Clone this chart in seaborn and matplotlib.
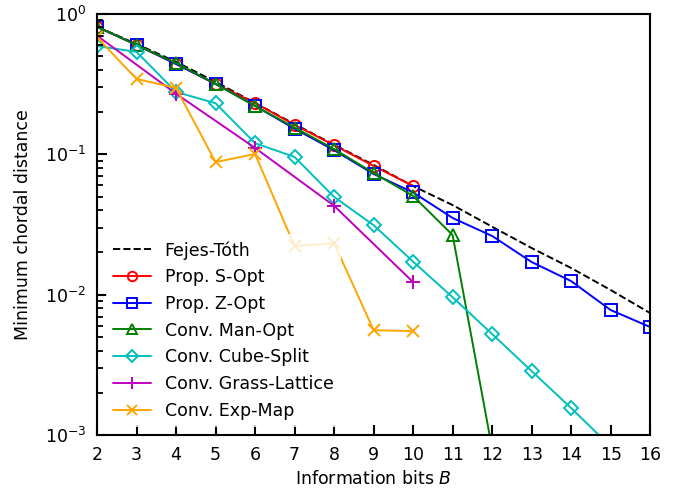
import numpy as np
import pandas as pd
import matplotlib
matplotlib.use("Agg")
import matplotlib.pyplot as plt
import seaborn as sns

sns.set_style("ticks")
plt.rcParams['font.family'] = ['DejaVu Sans']
plt.rcParams.update({
    'axes.edgecolor': 'black',
    'text.color': 'black',
    'axes.labelcolor': 'black',
    'xtick.color': 'black',
    'ytick.color': 'black',
    'xtick.direction': 'in',
    'ytick.direction': 'in',
    'xtick.major.size': 7,
    'ytick.major.size': 7,
    'xtick.major.width': 1.5,
    'ytick.major.width': 1.5,
    'ytick.minor.size': 4.5,
    'ytick.minor.width': 1.3,
    'xtick.top': False,
    'ytick.right': False,
    'axes.axisbelow': False,
})

# values
bits_ft = list(range(2, 17))
fejes_toth = [0.81, 0.61, 0.455, 0.328, 0.232, 0.164, 0.117, 0.084, 0.0594,
              0.0435, 0.0305, 0.0215, 0.0155, 0.0108, 0.0074]

bits_s = list(range(2, 11))
s_opt = [0.81, 0.60, 0.44, 0.317, 0.232, 0.162, 0.116, 0.0826, 0.0594]

bits_z = list(range(2, 17))
z_opt = [0.808, 0.601, 0.44, 0.317, 0.221, 0.152, 0.107, 0.0724, 0.0535,
         0.0352, 0.0262, 0.0171, 0.0125, 0.00778, 0.00589]

bits_man = list(range(2, 13))
man_opt = [0.81, 0.60, 0.447, 0.317, 0.221, 0.155, 0.109, 0.0736, 0.0505,
           0.0266, 0.0008]

bits_cube = list(range(2, 16))
cube_split = [0.59, 0.536, 0.278, 0.231, 0.120, 0.0957, 0.0497, 0.0313,
              0.0172, 0.0096, 0.00525, 0.00286, 0.00156, 0.00083]

bits_grass = [2, 4, 6, 8, 10]
grass_lattice = [0.70, 0.27, 0.111, 0.043, 0.0123]

bits_exp = list(range(2, 11))
exp_map = [0.68, 0.344, 0.297, 0.088, 0.1005, 0.0222, 0.0233, 0.0056, 0.0055]

FS = 12.5

fig, ax = plt.subplots(figsize=(6.83, 4.94), dpi=100)
fig.subplots_adjust(left=0.142, right=0.952, top=0.972, bottom=0.119)

mk = dict(markerfacecolor='none', markeredgewidth=1.4, markersize=8,
          linewidth=1.4)

sns.lineplot(x=bits_ft, y=fejes_toth, ax=ax, color='k', linestyle='--',
             linewidth=1.4, label='Fejes-Tóth')
sns.lineplot(x=bits_s, y=s_opt, ax=ax, color='r', marker='o',
             markeredgecolor='r', label='Prop. S-Opt', **mk)
sns.lineplot(x=bits_z, y=z_opt, ax=ax, color='b', marker='s',
             markeredgecolor='b', label='Prop. Z-Opt', **mk)
sns.lineplot(x=bits_man, y=man_opt, ax=ax, color='g', marker='^',
             markeredgecolor='g', label='Conv. Man-Opt', **mk)
sns.lineplot(x=bits_cube, y=cube_split, ax=ax, color='c', marker='D',
             markeredgecolor='c', label='Conv. Cube-Split',
             markerfacecolor='none', markeredgewidth=1.4, markersize=7.5,
             linewidth=1.4)
sns.lineplot(x=bits_grass, y=grass_lattice, ax=ax, color='m', marker='+',
             markeredgecolor='m', label='Conv. Grass-Lattice',
             markeredgewidth=1.4, markersize=10, linewidth=1.4)
sns.lineplot(x=bits_exp, y=exp_map, ax=ax, color='orange', marker='x',
             markeredgecolor='orange', label='Conv. Exp-Map', **mk)

ax.set_yscale('log')
ax.set_xlim(2, 16)
ax.set_ylim(1e-3, 1)
ax.set_xticks(range(2, 17))
ax.set_axisbelow(False)
ax.tick_params(which='both', direction='in', labelsize=FS, pad=8)
ax.set_xlabel('Information bits $B$', fontsize=FS, labelpad=4)
ax.set_ylabel('Minimum chordal distance', fontsize=FS, labelpad=9)
for s in ax.spines.values():
    s.set_linewidth(1.5)

leg = ax.legend(loc='lower left', fontsize=FS, frameon=True, framealpha=0.8,
                edgecolor='none', handlelength=2.2, markerscale=0.85)

plt.savefig('out.png', dpi=100)
